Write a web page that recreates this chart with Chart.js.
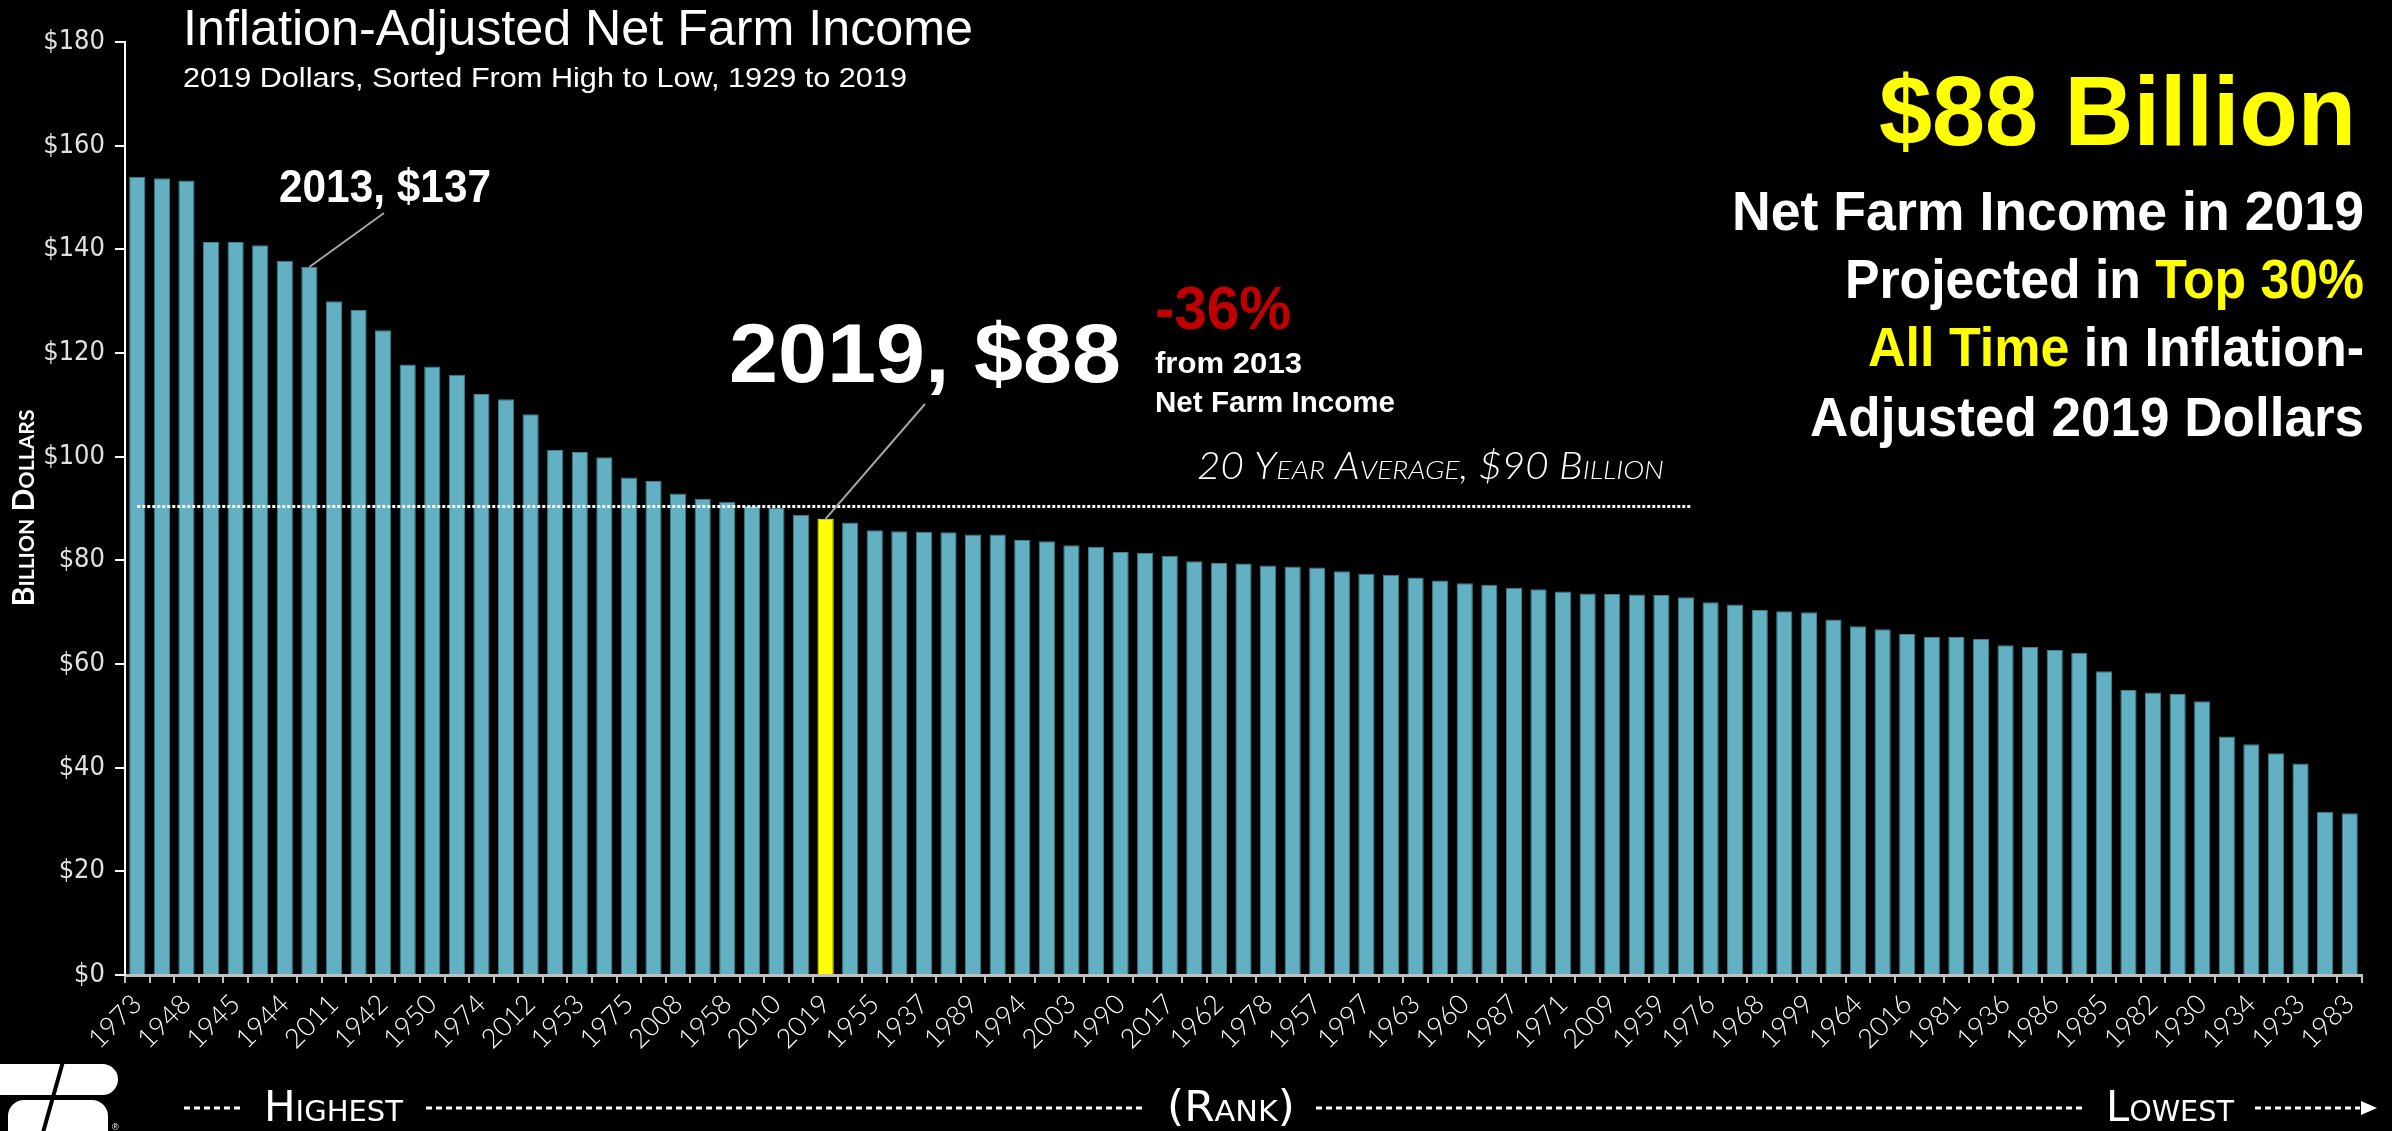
<!DOCTYPE html>
<html>
<head>
<meta charset="utf-8">
<script src="https://cdn.jsdelivr.net/npm/chart.js"></script>
<style>
  html, body { margin: 0; padding: 0; background: #000; }
  #wrap { width: 2392px; height: 1131px; position: relative; }
</style>
</head>
<body>
<div id="wrap"><canvas id="farm-chart"></canvas></div>
<script>
// years sorted from highest to lowest inflation-adjusted net farm income
const years = ['1973','1947','1948','1946','1945','1951','1944','2013','2011','1943',
  '1942','1952','1950','1949','1974','2014','2012','1979','1953','2004',
  '1975','1972','2008','1954','1958','1941','2010','2018','2019','1956',
  '1955','1939','1937','1980','1989','1977','1994','2007','2003','1996',
  '1990','2015','2017','1961','1962','1966','1978','1965','1957','1967',
  '1997','1940','1963','1969','1960','2005','1987','1970','1971','2001',
  '2009','1988','1959','2006','1976','1998','1968','1995','1999','2000',
  '1964','1991','2016','1992','1981','1993','1936','2002','1986','1984',
  '1985','1938','1982','1929','1930','1935','1934','1931','1933','1932','1983'];

// billion 2019 dollars
const income = [154.0,153.7,153.3,141.4,141.4,140.8,137.8,136.6,130.0,128.3,
  124.4,117.8,117.4,115.8,112.1,111.1,108.2,101.3,100.9,99.9,
  96.0,95.3,92.9,91.9,91.3,90.5,90.2,88.8,88.0,87.3,
  85.8,85.6,85.5,85.4,85.0,85.0,83.9,83.7,82.9,82.6,
  81.6,81.4,80.9,79.8,79.5,79.4,79.0,78.8,78.6,77.9,
  77.4,77.2,76.7,76.1,75.6,75.3,74.7,74.4,74.0,73.6,
  73.5,73.4,73.3,72.9,71.9,71.5,70.4,70.2,70.0,68.6,
  67.3,66.7,65.8,65.2,65.2,64.8,63.6,63.3,62.7,62.1,
  58.6,55.0,54.5,54.2,52.8,46.0,44.5,42.8,40.8,31.5,31.2];

const yTicks = [0, 20, 40, 60, 80, 100, 120, 140, 160, 180];
const highlightYear = '2019';
const markYear = '2013';
const avgValue = 90.4;
const avgEndIndex = 63.2;

const barColor = '#63b0c3';
const barEdge = '#3b7f90';
const hiColor = '#ffff00';

const COND = "'Liberation Sans Narrow', 'DejaVu Sans Condensed', sans-serif";
const SANS = "'Liberation Sans', Arial, sans-serif";
const GEO = "Lato, 'Open Sans', sans-serif";

// draw text squeezed/stretched to a target width
function fitText(ctx, text, x, y, w, font, color, align, caps) {
  ctx.save();
  ctx.font = font;
  if (caps) ctx.fontVariantCaps = 'small-caps';
  const m = ctx.measureText(text).width;
  ctx.translate(x, y);
  ctx.scale(w / m, 1);
  ctx.fillStyle = color;
  ctx.textAlign = 'left';
  ctx.textBaseline = 'alphabetic';
  ctx.fillText(text, align === 'right' ? -m : (align === 'center' ? -m / 2 : 0), 0);
  ctx.restore();
}

function fitRich(ctx, segs, xRight, y, w, font) {
  ctx.save();
  ctx.font = font;
  let total = 0;
  segs.forEach(s => { s.w = ctx.measureText(s.t).width; total += s.w; });
  ctx.translate(xRight, y);
  ctx.scale(w / total, 1);
  ctx.textAlign = 'left';
  let cx = -total;
  segs.forEach(s => { ctx.fillStyle = s.c; ctx.fillText(s.t, cx, 0); cx += s.w; });
  ctx.restore();
}

function dashLine(ctx, x1, x2, y) {
  ctx.save();
  ctx.strokeStyle = '#fff';
  ctx.lineWidth = 3;
  ctx.setLineDash([6, 4]);
  ctx.beginPath();
  ctx.moveTo(x1, y);
  ctx.lineTo(x2, y);
  ctx.stroke();
  ctx.restore();
}

const decor = {
  id: 'decor',
  afterDatasetsDraw(chart) {
    const ctx = chart.ctx;
    const xs = chart.scales.x, ys = chart.scales.y;

    // 20 year average dotted line
    const ay = ys.getPixelForValue(avgValue);
    ctx.save();
    ctx.strokeStyle = '#ffffff';
    ctx.lineWidth = 3;
    ctx.setLineDash([3, 2]);
    ctx.beginPath();
    ctx.moveTo(xs.getPixelForValue(0), ay);
    ctx.lineTo(xs.getPixelForValue(avgEndIndex), ay);
    ctx.stroke();
    ctx.restore();
  },
  afterDraw(chart) {
    const ctx = chart.ctx;
    const xs = chart.scales.x, ys = chart.scales.y;

    // leader lines to the annotated bars
    const i13 = years.indexOf(markYear), i19 = years.indexOf(highlightYear);
    ctx.save();
    ctx.strokeStyle = '#a6a6a6';
    ctx.lineWidth = 2;
    ctx.beginPath();
    ctx.moveTo(384, 213);
    ctx.lineTo(xs.getPixelForValue(i13), ys.getPixelForValue(income[i13]));
    ctx.moveTo(925, 404);
    ctx.lineTo(xs.getPixelForValue(i19), ys.getPixelForValue(income[i19]));
    ctx.stroke();
    ctx.restore();

    // titles
    fitText(ctx, 'Inflation-Adjusted Net Farm Income', 183, 45, 790, '50px ' + SANS, '#fff');
    fitText(ctx, '2019 Dollars, Sorted From High to Low, 1929 to 2019', 183, 87, 724, '28px ' + SANS, '#fff');

    // annotations
    fitText(ctx, '2013, $137', 279, 202, 212, 'bold 47px ' + SANS, '#fff');
    fitText(ctx, '2019, $88', 729, 382, 392, 'bold 84px ' + SANS, '#fff');
    fitText(ctx, '-36%', 1155, 329, 136, 'bold 62px ' + SANS, '#c00000');
    fitText(ctx, 'from 2013', 1155, 373, 147, 'bold 30px ' + SANS, '#fff');
    fitText(ctx, 'Net Farm Income', 1155, 412, 240, 'bold 30px ' + SANS, '#fff');
    fitText(ctx, '20 Year Average, $90 Billion', 1197, 479, 467, 'italic small-caps 300 37px ' + GEO, '#fff', 'left', true);

    // right hand call-out
    const R = 2364;
    fitText(ctx, '$88 Billion', 2356, 145, 477, 'bold 98px ' + SANS, hiColor, 'right');
    const bf = 'bold 55px ' + SANS;
    fitRich(ctx, [{t: 'Net Farm Income in 2019', c: '#fff'}], R, 230, 632, bf);
    fitRich(ctx, [{t: 'Projected in ', c: '#fff'}, {t: 'Top 30%', c: hiColor}], R, 298, 519, bf);
    fitRich(ctx, [{t: 'All Time', c: hiColor}, {t: ' in Inflation-', c: '#fff'}], R, 366, 496, bf);
    fitRich(ctx, [{t: 'Adjusted 2019 Dollars', c: '#fff'}], R, 436, 554, bf);

    // y axis title
    ctx.save();
    ctx.translate(34, 508);
    ctx.rotate(-Math.PI / 2);
    fitText(ctx, 'Billion Dollars', 0, 0, 197, 'bold small-caps 30px ' + GEO, '#fff', 'center', true);
    ctx.restore();

    // rank strip along the bottom
    const ry = 1108;
    const rf = 'small-caps 42px ' + COND;
    dashLine(ctx, 184, 243, ry);
    fitText(ctx, 'Highest', 264, 1121, 139, rf, '#fff', 'left', true);
    dashLine(ctx, 426, 1145, ry);
    fitText(ctx, '(Rank)', 1167, 1121, 128, rf, '#fff', 'left', true);
    dashLine(ctx, 1316, 2085, ry);
    fitText(ctx, 'Lowest', 2106, 1121, 128, rf, '#fff', 'left', true);
    dashLine(ctx, 2255, 2360, ry);
    ctx.save();
    ctx.fillStyle = '#fff';
    ctx.beginPath();
    ctx.moveTo(2361, 1101);
    ctx.lineTo(2377, 1108);
    ctx.lineTo(2361, 1115);
    ctx.closePath();
    ctx.fill();

    // rough logo mark, bottom left
    ctx.beginPath();
    ctx.roundRect(-20, 1064, 138, 31, [0, 16, 16, 0]);
    ctx.roundRect(8, 1100, 100, 60, [16, 16, 0, 0]);
    ctx.fill();
    ctx.strokeStyle = '#000';
    ctx.lineWidth = 4;
    ctx.beginPath();
    ctx.moveTo(64, 1058);
    ctx.lineTo(42, 1136);
    ctx.stroke();
    ctx.font = '9px ' + SANS;
    ctx.fillText('®', 112, 1130);
    ctx.restore();
  }
};

new Chart(document.getElementById('farm-chart'), {
  type: 'bar',
  data: {
    labels: years,
    datasets: [{
      label: 'Net Farm Income',
      data: income,
      backgroundColor: years.map(y => y === highlightYear ? hiColor : barColor),
      borderColor: years.map(y => y === highlightYear ? hiColor : barEdge),
      borderWidth: 1,
      barPercentage: 0.66,
      categoryPercentage: 1.0
    }]
  },
  options: {
    responsive: true,
    maintainAspectRatio: false,
    animation: false,
    layout: { padding: { top: 42, right: 30, left: 0, bottom: 0 } },
    plugins: { legend: { display: false }, tooltip: { enabled: false } },
    scales: {
      x: {
        afterFit(s) { s.height = 156; },
        grid: { offset: true, drawOnChartArea: false, color: '#bfbfbf', lineWidth: 2, tickLength: 8 },
        border: { color: '#bfbfbf', width: 3 },
        ticks: {
          autoSkip: false,
          minRotation: 45,
          maxRotation: 45,
          padding: 5,
          color: '#ffffff',
          font: { family: GEO, size: 27, weight: '300' },
          callback: (v, i) => i % 2 === 0 ? years[i] : ''
        }
      },
      y: {
        min: 0,
        max: 180,
        afterFit(s) { s.width = 125; },
        afterBuildTicks(s) { s.ticks = yTicks.map(v => ({ value: v })); },
        grid: { drawOnChartArea: false, color: '#ffffff', lineWidth: 2, tickLength: 10 },
        border: { color: '#ffffff', width: 2 },
        ticks: {
          padding: 10,
          color: '#e0e0e0',
          font: { family: COND, size: 27 },
          callback: v => '$' + v
        }
      }
    }
  },
  plugins: [decor]
});
</script>
</body>
</html>
